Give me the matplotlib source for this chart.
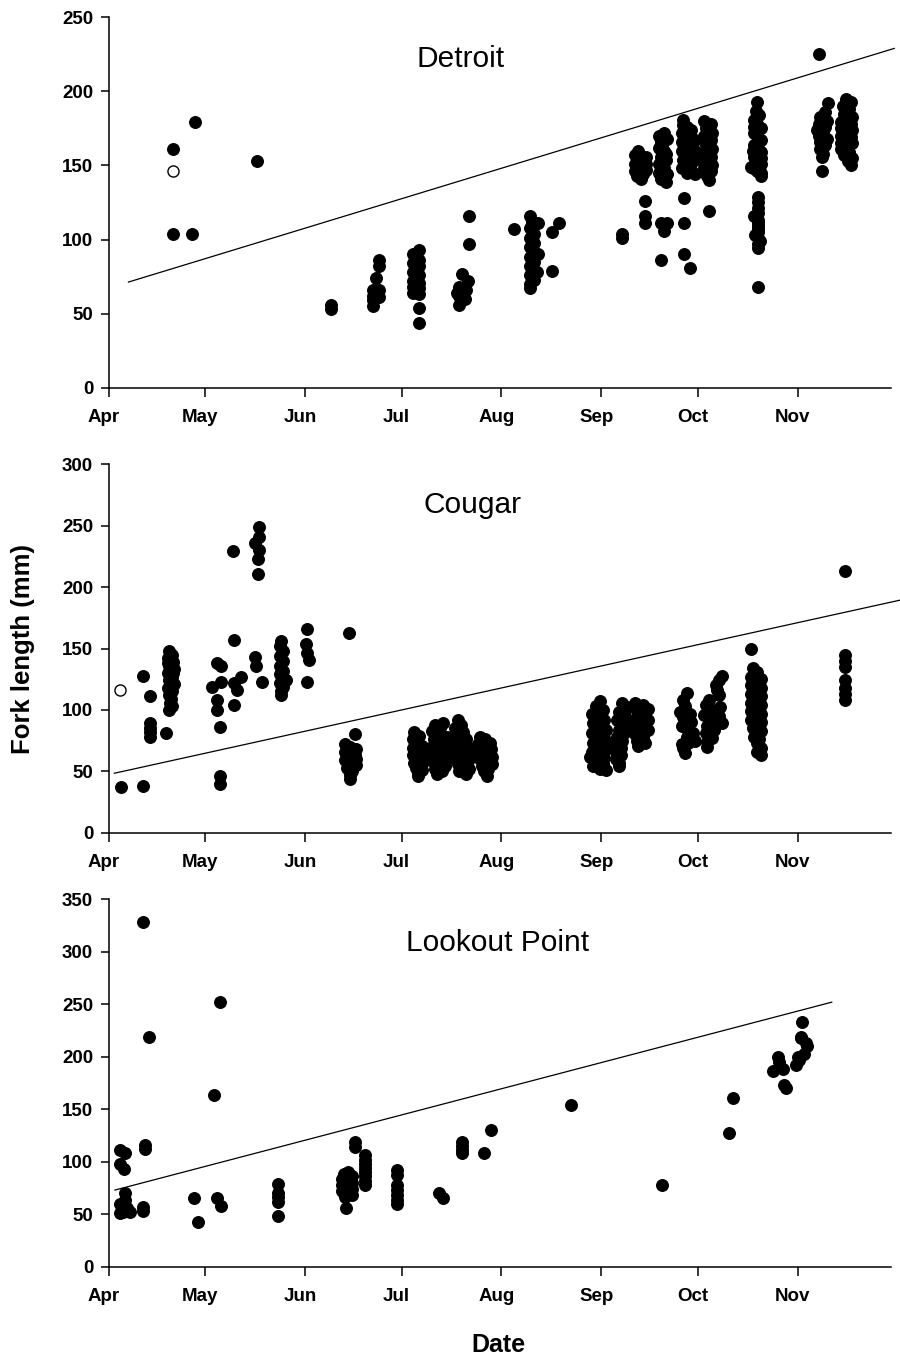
import matplotlib
matplotlib.use("Agg")
import matplotlib.pyplot as plt
import matplotlib.transforms as mtransforms
import numpy as np

plt.rcParams['font.family'] = ['Liberation Sans', 'DejaVu Sans']

# ---- axis labels / ticks ----
month_labels = ["Apr", "May", "Jun", "Jul", "Aug", "Sep", "Oct", "Nov"]
month_days = [0, 30, 61, 91, 122, 153, 183, 214]   # days since 1 April

panel_names = ["Detroit", "Cougar", "Lookout Point"]
panel_ymax = [250, 300, 350]

# ---- Detroit (day since Apr 1, fork length mm) ----
det_open_day = [20]
det_open_fl = [146]
det_day = [
    20, 20, 26.8, 25.8, 46, 69, 69,
    82, 82, 82, 82, 82.5, 83, 83, 84, 84, 84, 84,
    94.5, 94.5, 94.5, 94.5, 94.5, 94.5, 95.5, 95.5, 95.5, 95.5, 95.5,
    96.5, 96.5, 96.5, 96.5, 96.5, 96.5, 96.5, 96.5, 96.5,
    111.9, 111.9, 109.8, 111.5, 108.8, 108.3, 110.8, 108.8, 109, 111,
    125.9,
    131, 131.5, 131, 132, 131, 132, 131, 132.5, 131, 132, 131, 132.5, 131, 132, 131, 131,
    133.5, 133.5, 133, 137.8, 139.9, 137.8,
    159.5, 159.5,
    164.5, 163.5, 165, 163.5, 165.5, 163.5, 166, 165.5, 167, 167, 167, 164, 166,
    166.6, 166.6, 166.6,
    171, 172.5, 171.5, 173.5, 171, 172.5, 171.5, 173, 171, 172.5, 171, 173.5, 171.5, 173, 172, 173,
    171.6, 171.5, 173.5, 172.5,
    178.5, 179.5, 181, 178, 180, 182, 178, 180.5, 182, 178, 180, 182, 178.5, 180.5, 178, 181, 179.5, 182, 178.5,
    178.7, 178.7, 178.7, 180.5,
    185, 187, 185.5, 187.5, 185, 187, 185.5, 187.5, 185, 187, 185.5, 187.5, 185, 187, 186, 186.5,
    186.6,
    201.5, 201, 202, 200.5, 201.5, 202.5, 200.5, 201.5, 202.5, 200.5, 201.5, 202.5, 200.5, 201.5,
    202.5, 200, 201.5, 202.5, 199.5, 202.5, 200.5, 202, 200, 202.5,
    201.6, 201.6, 200.5, 201.6, 201.6, 201.6, 201.6, 201.6, 201.6, 201.6,
    201.6, 201.6, 201.6, 201.6, 200.8, 202.2,
    220.6,
    223.5, 222.5, 221, 223, 220.5, 222.5, 220, 222, 220.5, 223, 221, 222.5, 221, 222, 221.5, 221.5,
    229, 230.5, 228, 230, 228.5, 231, 229, 227.5, 230.5, 228.5, 231, 229, 227.5, 230.5, 228.5, 231,
    229.5, 227.5, 230, 228.5, 231, 229.5, 230.5, 227.5, 227.5,
]
det_fl = [
    161, 104, 179, 104, 153, 56, 53,
    66, 62, 59, 55, 60, 74, 64, 86, 82, 66, 61,
    90, 84, 78, 72, 68, 64, 88, 80, 74, 70, 66,
    93, 86, 82, 76, 71, 67, 63, 54, 44,
    116, 97, 77, 72, 68, 64, 60, 56, 62, 66,
    107,
    116, 112, 108, 104, 101, 98, 95, 91, 88, 85, 82, 79, 76, 73, 70, 67,
    111, 90, 78, 105, 111, 79,
    104, 101,
    160, 157, 154, 151, 149, 146, 144, 141, 151, 147, 156, 143, 152,
    126, 116, 111,
    170, 172, 166, 168, 162, 160, 156, 154, 151, 148, 145, 144, 141, 139, 164, 158,
    86, 111, 111, 106,
    181, 176, 174, 172, 170, 167, 166, 163, 160, 160, 157, 154, 154, 151, 148, 147, 145, 144, 177,
    128, 111, 90, 81,
    180, 178, 175, 172, 170, 167, 164, 161, 158, 156, 153, 150, 148, 146, 143, 140,
    119,
    193, 187, 184, 181, 178, 175, 172, 170, 167, 164, 162, 159, 156, 153,
    151, 148, 146, 143, 149, 145, 176, 166, 160, 155,
    129, 121, 116, 113, 109, 105, 101, 97, 94, 68,
    125, 118, 111, 107, 103, 99,
    225,
    192, 186, 183, 180, 178, 176, 174, 172, 170, 168, 166, 164, 161, 158, 156, 146,
    195, 193, 190, 188, 185, 183, 181, 179, 178, 176, 174, 172, 170, 169, 167, 165,
    163, 161, 159, 157, 155, 153, 150, 165, 175,
]

# ---- Cougar ----
cou_open_day = [3.7]
cou_open_fl = [116]
cou_day = [
    3.9, 10.8, 10.8, 13, 13, 13, 13, 13, 17.9,
    18.8, 19.8, 18.5, 20, 18.8, 20.2, 18.5, 19.8, 18.8, 20.2, 18.5, 19.8, 18.8, 19.5, 19, 19.8, 18.8, 20, 18.5,
    33.8, 34.8, 32.2, 34.8, 33.6, 33.6, 34.6, 34.6, 34.6,
    38.7, 38.9, 41, 40, 38.9, 38.9,
    46.7, 46.7, 45.5, 46.7, 46.5, 46.5, 45.5, 45.8, 47.7,
    53.7, 53.2, 54.3, 53.2, 54.3, 53.2, 54.3, 53.2, 54.3, 53.2, 54.3, 53.7, 53.7, 55,
    61.7, 61.2, 61.7, 62.2, 61.7,
    74.6,
    76.5, 73.5, 75, 77, 73.5, 76, 74.5, 77, 73.5, 75.5, 77, 74, 75.5, 75, 75, 76.5, 74,
    95, 96.5, 94.5, 96, 97.5, 94.5, 96, 98, 94.5, 96.5, 98, 95, 97, 95.5, 97.5, 96, 96, 98.5, 98.5,
    101.5, 104, 103, 100.5, 102.5, 105, 101, 103.5, 105.5, 100.5, 102.5, 104.5, 101, 103, 105, 100.5,
    102.5, 104.5, 101.5, 103.5, 102,
    108.5, 109.5, 107.5, 110, 108, 111, 107.5, 109.5, 111.5, 108, 110, 112, 107.5, 109.5, 111.5, 108.5,
    110.5, 112, 109, 111,
    115.5, 117, 118.5, 114.8, 116.5, 118.8, 115, 117, 119, 115.5, 117.5, 119, 116, 118, 116.5, 117.6,
    152.5, 151.5, 153.5, 150, 152, 154, 150.5, 152.5, 154.5, 150, 152, 154, 150.5, 152.5, 154.5, 150,
    152, 154, 149.5, 151.5, 153.5, 150.5, 152.5, 154.5, 151, 153, 155, 151,
    159.5, 161, 158.5, 160.5, 158, 160, 161.5, 158.5, 160, 158, 159.5, 157.5, 159, 157.5, 159, 157.5, 158.5, 158.5,
    163.5, 166, 167.5, 164, 166.5, 164, 167.5, 163.5, 166, 164.5, 167.5, 163.5, 166, 164, 166.5, 164.5,
    179.7, 178.5, 179, 177.5, 180.5, 178.5, 181, 178, 180, 181.5, 179.5, 182, 180, 178, 178.5, 179,
    190.5, 189.5, 188.5, 189, 189.5, 186.5, 185.5, 190, 187.5, 185, 189.5, 187, 190.5, 186, 188, 185.5, 187.5, 186, 186,
    199.5, 200, 201.5, 202.5, 199.5, 201, 202.5, 199.5, 201, 202.5, 199.5, 201, 202.5, 199.5, 201, 202.5,
    199.5, 201, 202.5, 199.5, 201, 202.5, 200, 201, 202, 200.5, 201.5, 202.5, 201.5, 202.5,
    228.6, 228.6, 228.6, 228.6, 228.6, 228.6, 228.6, 228.6,
]
cou_fl = [
    37, 38, 128, 111, 89, 85, 82, 78, 81,
    148, 145, 142, 139, 136, 133, 130, 127, 124, 121, 118, 115, 112, 109, 106, 103, 100, 130, 138,
    138, 136, 119, 123, 108, 100, 86, 46, 40,
    229, 157, 127, 116, 122, 104,
    249, 241, 236, 230, 223, 211, 143, 136, 123,
    156, 152, 148, 144, 140, 136, 132, 129, 126, 122, 119, 115, 112, 124,
    166, 154, 146, 141, 123,
    163,
    80, 72, 70, 68, 66, 64, 62, 60, 59, 57, 55, 53, 50, 47, 44, 63, 58,
    82, 79, 76, 73, 71, 69, 67, 65, 63, 61, 59, 57, 55, 53, 51, 49, 46, 62, 68,
    88, 89, 85, 83, 80, 78, 76, 74, 72, 70, 68, 66, 64, 62, 60, 58,
    56, 54, 52, 50, 48,
    92, 88, 85, 82, 79, 76, 74, 72, 70, 68, 66, 64, 62, 60, 58, 56,
    54, 52, 50, 48,
    78, 76, 73, 72, 70, 68, 66, 64, 62, 60, 58, 56, 54, 52, 50, 46,
    107, 103, 100, 97, 94, 92, 89, 86, 84, 81, 78, 76, 73, 70, 68, 66,
    63, 61, 62, 58, 56, 54, 52, 51, 60, 65, 74, 84,
    106, 102, 98, 95, 92, 89, 87, 84, 81, 78, 75, 72, 69, 66, 63, 60, 57, 54,
    106, 104, 101, 99, 96, 93, 92, 89, 87, 84, 84, 80, 78, 75, 73, 71,
    114, 108, 103, 98, 97, 94, 90, 87, 84, 81, 78, 75, 73, 72, 69, 65,
    128, 124, 120, 116, 112, 108, 104, 102, 100, 96, 95, 91, 89, 87, 84, 81, 77, 74, 70,
    150, 134, 131, 125, 127, 122, 118, 120, 115, 111, 113, 108, 104, 106, 101, 97,
    99, 94, 90, 92, 87, 83, 85, 80, 76, 78, 73, 69, 66, 63,
    213, 145, 140, 135, 124, 118, 113, 108,
]

# ---- Lookout Point ----
lop_day = [
    10.8, 12.7, 11.2, 11.2, 10.8, 10.8,
    3.5, 5.1, 3.5, 4.9, 5, 5, 3.5, 4.5, 3.5, 5.6, 6.6, 4.5,
    26.6, 27.9, 32.8, 34.6, 33.6, 34.8,
    52.6, 52.6, 52.6, 52.6, 52.6,
    76.6, 76.6, 73, 74.5, 75.5, 72.5, 74, 75.5, 72.5, 74, 75.5, 72.5, 74, 75.5, 73.5, 73.7, 75, 73,
    79.7, 79.7, 79.7, 79.7, 79.7, 79.7, 79.7, 79.7,
    89.6, 89.6, 89.6, 89.6, 89.6, 89.6, 89.6,
    102.5, 103.8,
    109.8, 109.8, 109.8, 109.8, 116.7, 118.8, 143.7, 171.8, 192.7, 193.8,
    206.5, 208, 208.3, 209.5, 210.3, 209.8,
    215.5, 215.2, 216.5, 216, 213.4, 214.5, 216.8, 215, 214,
]
lop_fl = [
    328, 219, 116, 112, 57, 53,
    111, 108, 98, 93, 70, 64, 60, 55, 51, 56, 52, 52,
    65, 43, 164, 252, 65, 58,
    79, 70, 66, 62, 48,
    119, 114, 88, 90, 86, 84, 82, 80, 78, 76, 74, 72, 70, 68, 66, 56, 85, 80,
    106, 102, 98, 94, 90, 86, 82, 78,
    92, 87, 78, 73, 68, 64, 60,
    70, 65,
    119, 115, 111, 108, 108, 130, 154, 78, 127, 161,
    186, 200, 195, 188, 170, 173,
    233, 219, 213, 203, 192, 197, 210, 218, 200,
]

# ---- regression line end points (day, fork length) ----
det_line_x = [6.2, 244]
det_line_y = [71.3, 229]
cou_line_x = [1.8, 246]
cou_line_y = [48.4, 189.5]
lop_line_x = [2.0, 224.6]
lop_line_y = [73, 252]

panels = [
    (det_day, det_fl, det_open_day, det_open_fl, det_line_x, det_line_y),
    (cou_day, cou_fl, cou_open_day, cou_open_fl, cou_line_x, cou_line_y),
    (lop_day, lop_fl, [], [], lop_line_x, lop_line_y),
]

fig = plt.figure(figsize=(9, 13.57), dpi=100)
W, H = 900.0, 1357.0
boxes = [(108.5, 17.3, 387.7), (108.5, 464.3, 832.7), (108.5, 899.3, 1266.7)]
title_pos = [(0.4505, 0.8666), (0.465, 0.867), (0.497, 0.860)]
right_px = 891.0

for i, (ax_box, data) in enumerate(zip(boxes, panels)):
    left, top, bottom = ax_box
    ax = fig.add_axes([left / W, 1 - bottom / H, (right_px - left) / W, (bottom - top) / H])
    dx, dy, odx, ody, lx, ly = data
    ax.plot(lx, ly, color='black', lw=0.9, clip_on=False, zorder=2)
    ax.plot(dx, dy, linestyle='none', marker='o', ms=8.5, mfc='black', mec='black', mew=0.8, zorder=3)
    if odx:
        ax.plot(odx, ody, linestyle='none', marker='o', ms=8.0, mfc='white', mec='black', mew=1.0, zorder=3)
    ax.set_xlim(0, 243)
    ax.set_ylim(0, panel_ymax[i])
    ax.set_yticks(np.arange(0, panel_ymax[i] + 1, 50))
    ax.set_xticks(month_days)
    ax.set_xticklabels(month_labels)
    for s in ['top', 'right']:
        ax.spines[s].set_visible(False)
    for s in ['left', 'bottom']:
        ax.spines[s].set_linewidth(1.1)
    ax.tick_params(axis='x', direction='out', length=6.5, width=1.1, pad=9, labelsize=13.5)
    ax.tick_params(axis='y', direction='out', length=6, width=1.1, pad=5, labelsize=13.5)
    for lab in ax.get_xticklabels() + ax.get_yticklabels():
        lab.set_fontweight('bold')
    off = mtransforms.ScaledTranslation(-5 / 100, 0, fig.dpi_scale_trans)
    for lab in ax.get_xticklabels():
        lab.set_transform(lab.get_transform() + off)
    tx, ty = title_pos[i]
    ax.text(tx, ty, panel_names[i], transform=ax.transAxes, ha='center', va='baseline', fontsize=21.5)

fig.text(23 / W, 1 - 649 / H, "Fork length (mm)", rotation=90, ha='center', va='center',
         fontsize=18.5, fontweight='bold')
fig.text(498 / W, (H - 1351.7) / H, "Date", ha='center', va='baseline', fontsize=18, fontweight='bold')

fig.savefig("out.png", dpi=100)
